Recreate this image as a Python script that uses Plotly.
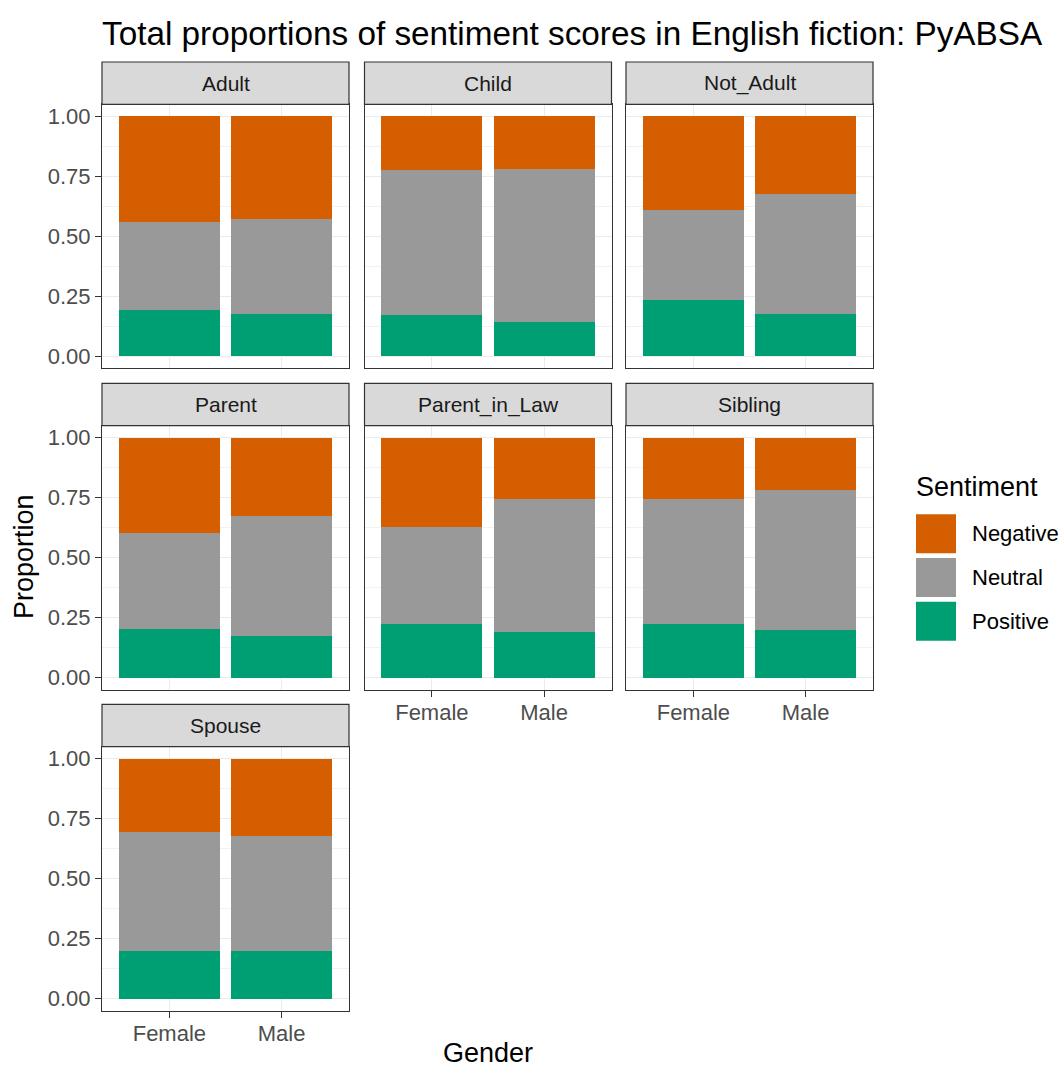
import plotly.graph_objects as go

# Proportions of sentiment per relation group and character gender
groups = ["Adult", "Child", "Not_Adult", "Parent", "Parent_in_Law", "Sibling", "Spouse"]
genders = ["Female", "Male"]
sentiments = ["Negative", "Neutral", "Positive"]

positive = [[0.194, 0.178], [0.172, 0.144], [0.236, 0.178], [0.204, 0.173],
            [0.223, 0.190], [0.225, 0.198], [0.198, 0.199]]
neutral = [[0.364, 0.394], [0.606, 0.638], [0.372, 0.500], [0.399, 0.501],
           [0.403, 0.555], [0.521, 0.583], [0.495, 0.480]]
negative = [[0.442, 0.428], [0.222, 0.218], [0.392, 0.322], [0.397, 0.326],
            [0.374, 0.255], [0.254, 0.219], [0.307, 0.321]]

y_ticks = [0.0, 0.25, 0.5, 0.75, 1.0]
y_tick_text = ["0.00", "0.25", "0.50", "0.75", "1.00"]

colors = {"Negative": "#D55E00", "Neutral": "#999999", "Positive": "#009E73"}

W, H = 1061, 1073
FONT = "Liberation Sans, Arial, sans-serif"

# facet grid geometry (pixels)
col_left = [102.0, 364.5, 626.0]
panel_w = 247.0
row_top = [104.3, 425.7, 746.7]      # top of plotting panel
panel_h = 264.0
strip_h = 42.3
ncol = 3


def px_x(v):
    return v / W


def px_y(v):
    return 1 - v / H


fig = go.Figure()
shapes = []
annotations = []
layout_axes = {}

n = len(groups)
for i, g in enumerate(groups):
    r, c = divmod(i, ncol)
    idx = "" if i == 0 else str(i + 1)
    xa, ya = "x" + idx, "y" + idx

    series = [("Positive", positive[i]), ("Neutral", neutral[i]), ("Negative", negative[i])]
    for name, vals in series:
        fig.add_trace(go.Bar(
            x=genders, y=vals, name=name, width=0.9,
            marker=dict(color=colors[name], line=dict(width=0)),
            xaxis=xa, yaxis=ya, showlegend=False,
        ))

    x0, x1 = col_left[c], col_left[c] + panel_w
    y0, y1 = row_top[r], row_top[r] + panel_h

    # x axis labels only on the bottom panel of each column
    bottom_of_col = (i + ncol) >= n
    left_col = c == 0

    layout_axes["xaxis" + idx] = dict(
        domain=[px_x(x0), px_x(x1)], anchor=ya,
        type="category", categoryorder="array", categoryarray=genders,
        range=[-0.6, 1.6], showgrid=True, gridcolor="#EBEBEB", gridwidth=1.1,
        showline=True, mirror=True, linecolor="#333333", linewidth=1.2,
        ticks="outside" if bottom_of_col else "", ticklen=6, tickwidth=1.3, tickcolor="#333333",
        showticklabels=bottom_of_col, ticklabelstandoff=-3,
        tickfont=dict(family=FONT, size=22, color="#4D4D4D"),
        zeroline=False, fixedrange=True,
    )
    layout_axes["yaxis" + idx] = dict(
        domain=[px_y(y1), px_y(y0)], anchor=xa,
        range=[-0.05, 1.05], tickvals=y_ticks, ticktext=y_tick_text,
        showgrid=True, gridcolor="#EBEBEB", gridwidth=1.1,
        minor=dict(tickvals=[0.125, 0.375, 0.625, 0.875], showgrid=True,
                   gridcolor="#F2F2F2", gridwidth=0.6, ticks=""),
        showline=True, mirror=True, linecolor="#333333", linewidth=1.2,
        ticks="outside" if left_col else "", ticklen=6, tickwidth=1.3, tickcolor="#333333",
        showticklabels=left_col,
        tickfont=dict(family=FONT, size=22, color="#4D4D4D"),
        zeroline=False, fixedrange=True,
    )

    # facet strip
    sy0, sy1 = y0 - strip_h, y0
    shapes.append(dict(type="rect", xref="paper", yref="paper",
                       x0=px_x(x0), x1=px_x(x1), y0=px_y(sy1), y1=px_y(sy0),
                       fillcolor="#D9D9D9", line=dict(color="#333333", width=1.2)))
    annotations.append(dict(text=g, xref="paper", yref="paper",
                            x=px_x((x0 + x1) / 2), y=px_y((sy0 + sy1) / 2),
                            xanchor="center", yanchor="middle", showarrow=False,
                            font=dict(family=FONT, size=21, color="#1A1A1A")))

# axis titles
annotations.append(dict(text="Proportion", xref="paper", yref="paper",
                        x=px_x(24), y=px_y(557), textangle=-90,
                        xanchor="center", yanchor="middle", showarrow=False,
                        font=dict(family=FONT, size=27, color="black")))
annotations.append(dict(text="Gender", xref="paper", yref="paper",
                        x=px_x(488), y=px_y(1053),
                        xanchor="center", yanchor="middle", showarrow=False,
                        font=dict(family=FONT, size=27, color="black")))

# legend
legend_x = 916
annotations.append(dict(text="Sentiment", xref="paper", yref="paper",
                        x=px_x(legend_x - 2), y=px_y(487),
                        xanchor="left", yanchor="middle", showarrow=False,
                        font=dict(family=FONT, size=27, color="black")))
key_top = 514.3
key_step = 43.7
key_size = 39.0
for k, name in enumerate(sentiments):
    ky0 = key_top + k * key_step
    shapes.append(dict(type="rect", xref="paper", yref="paper",
                       x0=px_x(legend_x), x1=px_x(legend_x + 40),
                       y0=px_y(ky0 + key_size), y1=px_y(ky0),
                       fillcolor=colors[name], line=dict(width=0)))
    annotations.append(dict(text=name, xref="paper", yref="paper",
                            x=px_x(970), y=px_y(ky0 + key_size / 2),
                            xanchor="left", yanchor="middle", showarrow=False,
                            font=dict(family=FONT, size=22, color="black")))

fig.update_layout(
    width=W, height=H,
    margin=dict(l=0, r=0, t=0, b=0),
    paper_bgcolor="white", plot_bgcolor="white",
    barmode="stack", bargap=0.1,
    title=dict(text="Total proportions of sentiment scores in English fiction: PyABSA",
               x=px_x(102), xanchor="left", xref="paper",
               y=px_y(33), yanchor="middle", yref="paper",
               font=dict(family=FONT, size=33.3, color="black")),
    shapes=shapes, annotations=annotations,
    **layout_axes,
)

fig.write_html("out.html")
